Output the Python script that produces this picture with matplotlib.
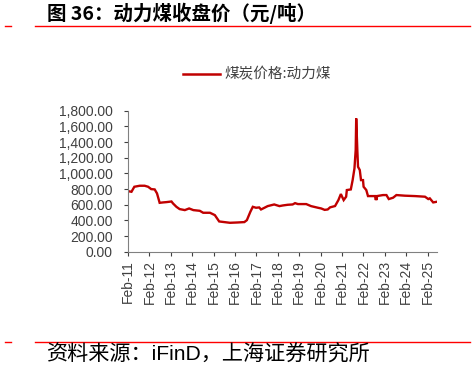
import matplotlib
matplotlib.use("Agg")
import matplotlib.pyplot as plt
import matplotlib.dates as mdates
from matplotlib.lines import Line2D
from matplotlib.ticker import FuncFormatter
import pandas as pd

plt.rcParams["font.family"] = ["Liberation Sans", "Noto Sans CJK SC", "DejaVu Sans"]

# values (yuan / ton)
dates = [
    "2011-02-01", "2011-04-01", "2011-05-20", "2011-08-20", "2011-11-12", "2012-01-10",
    "2012-03-03", "2012-05-01", "2012-06-10", "2012-07-25", "2012-09-20", "2012-11-18",
    "2013-02-12", "2013-03-10", "2013-05-07", "2013-07-01", "2013-09-28", "2013-12-10",
    "2014-02-20", "2014-06-10", "2014-08-07", "2014-12-01", "2015-02-22", "2015-05-07",
    "2015-11-07", "2016-03-13", "2016-07-10", "2016-08-22", "2016-10-20", "2016-12-01",
    "2017-01-25", "2017-03-20", "2017-04-20", "2017-06-18", "2017-08-12", "2017-12-01",
    "2018-03-01", "2018-04-25", "2018-07-20", "2018-10-12", "2018-11-22", "2019-01-10",
    "2019-06-01", "2019-08-22", "2019-12-18", "2020-02-12", "2020-04-10", "2020-06-01",
    "2020-07-12", "2020-10-05", "2020-12-01", "2021-01-12", "2021-03-01", "2021-04-12",
    "2021-04-24", "2021-07-01", "2021-08-01", "2021-09-01", "2021-09-22", "2021-10-01",
    "2021-10-20", "2021-11-01", "2021-12-01", "2021-12-22", "2022-01-25", "2022-02-04",
    "2022-03-22", "2022-04-20", "2022-08-22", "2022-09-02", "2022-09-06", "2022-09-17",
    "2022-09-20", "2023-01-01", "2023-03-01", "2023-04-10", "2023-06-22", "2023-08-18",
    "2024-01-10", "2024-07-01", "2024-12-18", "2025-02-12", "2025-03-10", "2025-05-07",
    "2025-07-10",
]
prices = [
    774, 766, 830, 843, 843, 830,
    800, 796, 745, 625, 630, 634,
    642, 617, 574, 545, 532, 553,
    532, 523, 498, 498, 468, 387,
    370, 374, 379, 404, 510, 574,
    562, 566, 540, 562, 583, 604,
    583, 591, 600, 604, 621, 609,
    609, 583, 562, 553, 535, 540,
    567, 584, 660, 737, 660, 703,
    788, 796, 915, 1064, 1298, 1702,
    1298, 1085, 1043, 915, 915, 830,
    788, 711, 711, 660, 711, 660,
    711, 724, 724, 673, 690, 724,
    716, 711, 703, 673, 682, 630,
    639,
]
dates = pd.to_datetime(dates)

y_ticks = [0, 200, 400, 600, 800, 1000, 1200, 1400, 1600, 1800]
x_tick_years = list(range(2011, 2026))

line_color = "#C00000"
rule_color = "#FF0000"
text_gray = "#404040"
cjk = ["Liberation Sans", "Noto Sans CJK SC", "DejaVu Sans"]

fig = plt.figure(figsize=(4.75, 3.73), dpi=100)
ax = fig.add_axes([0.2695, 0.325, 0.651, 0.378])

ax.plot(dates, prices, color=line_color, lw=1.7, solid_joinstyle="miter")

ax.set_ylim(0, 1800)
ax.set_yticks(y_ticks)
ax.yaxis.set_major_formatter(FuncFormatter(lambda v, p: f"{v:,.2f}"))
ax.set_xlim(pd.Timestamp("2011-02-01"), pd.Timestamp("2025-07-15"))
ax.set_xticks([pd.Timestamp(f"{y}-02-01") for y in x_tick_years])
ax.xaxis.set_major_formatter(mdates.DateFormatter("%b-%y"))
ax.tick_params(axis="x", rotation=90, labelsize=10, colors=text_gray, length=3, width=0.8, pad=3)
ax.tick_params(axis="y", labelsize=10, colors=text_gray, length=3, width=0.8, pad=8)
for s in ["top", "right"]:
    ax.spines[s].set_visible(False)
for s in ["left", "bottom"]:
    ax.spines[s].set_color("#808080")
    ax.spines[s].set_linewidth(0.8)

# legend
fig.add_artist(Line2D([183 / 475, 220 / 475], [1 - 74.3 / 373] * 2, color=line_color, lw=1.8))
fig.text(224 / 475, 1 - 74.3 / 373, "煤炭价格:动力煤", fontsize=10.5, color=text_gray,
         va="center", ha="left", family=["Noto Sans CJK SC", "DejaVu Sans"])

# title and rules
fig.text(47 / 475, 1 - 13 / 373, "图 36：动力煤收盘价（元/吨）", fontsize=14, weight="bold",
         va="center", ha="left", family=["Noto Sans CJK SC", "DejaVu Sans"])
for yy in (26, 342):
    fig.add_artist(Line2D([5 / 475, 11 / 475], [1 - yy / 373] * 2, color=rule_color, lw=1))
    fig.add_artist(Line2D([35 / 475, 470 / 475], [1 - yy / 373] * 2, color=rule_color, lw=1))

fig.text(47 / 475, 1 - 355 / 373, "资料来源：iFinD，上海证券研究所", fontsize=15.2,
         va="center", ha="left", family=cjk)

fig.savefig("out.png", dpi=100)
